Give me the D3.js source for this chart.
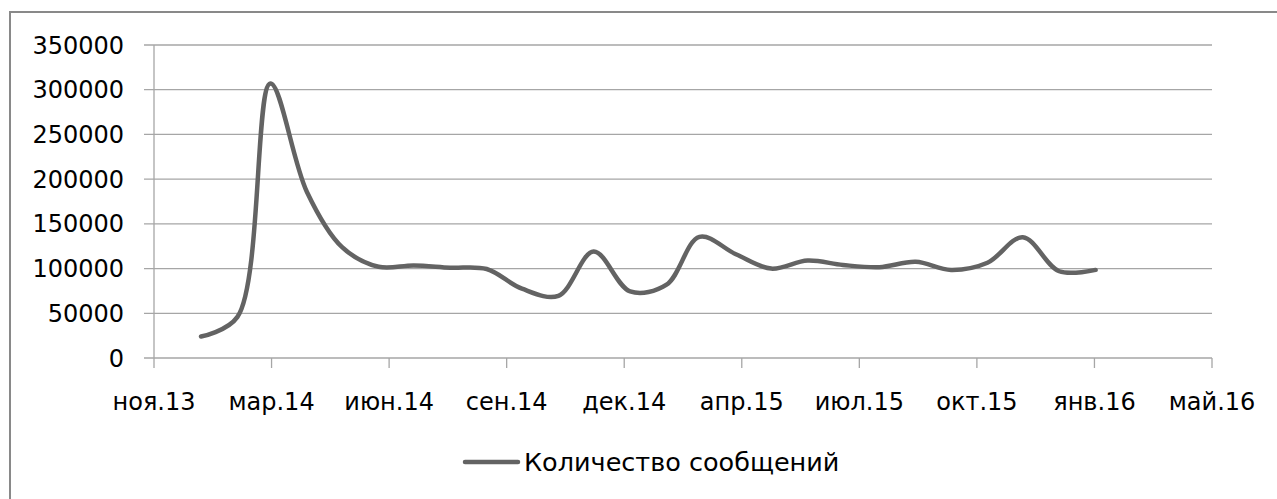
<!DOCTYPE html>
<html>
<head>
<meta charset="utf-8">
<script src="https://cdn.jsdelivr.net/npm/d3@7"></script>
<style>
  html, body { margin: 0; padding: 0; background: #fff; }
  svg text { font-family: "DejaVu Sans", sans-serif; fill: #000; }
</style>
</head>
<body>
<div id="chart"></div>
<script>
// monthly data, first day of each month
const months = ["2014-01","2014-02","2014-03","2014-04","2014-05","2014-06","2014-07","2014-08",
  "2014-09","2014-10","2014-11","2014-12","2015-01","2015-02","2015-03","2015-04","2015-05",
  "2015-06","2015-07","2015-08","2015-09","2015-10","2015-11","2015-12","2016-01","2016-02"];
const messages = [24000, 46000, 307000, 186000, 124000, 102000, 103500, 101000,
  99500, 77500, 69500, 119000, 74500, 82000, 135500, 116000, 100000,
  109000, 104000, 101500, 107500, 98500, 106500, 135000, 97000, 98500];
const seriesName = "Количество сообщений";

// date axis (Excel style, major unit 100 days)
const tickDates = ["2013-11-22","2014-03-02","2014-06-10","2014-09-18","2014-12-27",
  "2015-04-06","2015-07-15","2015-10-23","2016-01-31","2016-05-10"];
const tickLabels = ["ноя.13","мар.14","июн.14","сен.14","дек.14","апр.15","июл.15","окт.15","янв.16","май.16"];
const yTicks = [0, 50000, 100000, 150000, 200000, 250000, 300000, 350000];

(function() {
    const width = 1277, height = 499;
    const plot = {left: 154, right: 1212, top: 45, bottom: 358};
    const parse = d3.utcParse("%Y-%m-%d");

    const svg = d3.select("#chart").append("svg")
        .attr("width", width).attr("height", height);

    // chart frame (only left/top edges are inside the picture)
    svg.append("rect")
        .attr("x", 10).attr("y", 12)
        .attr("width", width + 20).attr("height", height + 20)
        .attr("fill", "none").attr("stroke", "#898989").attr("stroke-width", 2);

    const x = d3.scaleUtc()
        .domain([parse(tickDates[0]), parse(tickDates[tickDates.length - 1])])
        .range([plot.left, plot.right]);
    const y = d3.scaleLinear().domain([0, 350000]).range([plot.bottom, plot.top]);

    // gridlines + y ticks
    svg.append("g").selectAll("line")
        .data(yTicks.filter(d => d > 0))
        .enter().append("line")
        .attr("x1", plot.left - 10).attr("x2", plot.right)
        .attr("y1", d => y(d)).attr("y2", d => y(d))
        .attr("stroke", "#a6a6a6").attr("stroke-width", 1.3);

    svg.append("g").selectAll("text")
        .data(yTicks)
        .enter().append("text")
        .attr("x", 124).attr("y", d => y(d))
        .attr("dy", "0.36em")
        .attr("text-anchor", "end")
        .style("font-size", "24px")
        .text(d => d);

    // axes lines
    svg.append("line")
        .attr("x1", plot.left).attr("x2", plot.left)
        .attr("y1", plot.top).attr("y2", plot.bottom)
        .attr("stroke", "#a6a6a6").attr("stroke-width", 1.3);
    svg.append("line")
        .attr("x1", plot.left - 10).attr("x2", plot.right)
        .attr("y1", plot.bottom).attr("y2", plot.bottom)
        .attr("stroke", "#a6a6a6").attr("stroke-width", 1.3);

    const xt = svg.append("g").selectAll("g")
        .data(tickDates.map((d, i) => ({date: parse(d), label: tickLabels[i]})))
        .enter().append("g")
        .attr("transform", d => `translate(${x(d.date)},0)`);
    xt.append("line")
        .attr("y1", plot.bottom).attr("y2", plot.bottom + 10)
        .attr("stroke", "#a6a6a6").attr("stroke-width", 1.3);
    xt.append("text")
        .attr("y", 410)
        .attr("text-anchor", "middle")
        .style("font-size", "24px")
        .text(d => d.label);

    // smoothed series line
    const pts = months.map((m, i) => ({date: parse(m + "-01"), v: messages[i]}));
    const line = d3.line()
        .x(d => x(d.date))
        .y(d => y(d.v))
        .curve(d3.curveCatmullRom.alpha(0.5));
    svg.append("path")
        .datum(pts)
        .attr("d", line)
        .attr("fill", "none")
        .attr("stroke", "#636363")
        .attr("stroke-width", 4.5)
        .attr("stroke-linecap", "round")
        .attr("stroke-linejoin", "round");

    // legend
    const lg = svg.append("g");
    lg.append("line")
        .attr("x1", 465).attr("x2", 518)
        .attr("y1", 462).attr("y2", 462)
        .attr("stroke", "#636363").attr("stroke-width", 4.5)
        .attr("stroke-linecap", "round");
    lg.append("text")
        .attr("x", 524).attr("y", 471)
        .style("font-size", "25.5px")
        .text(seriesName);
})();
</script>
</body>
</html>
